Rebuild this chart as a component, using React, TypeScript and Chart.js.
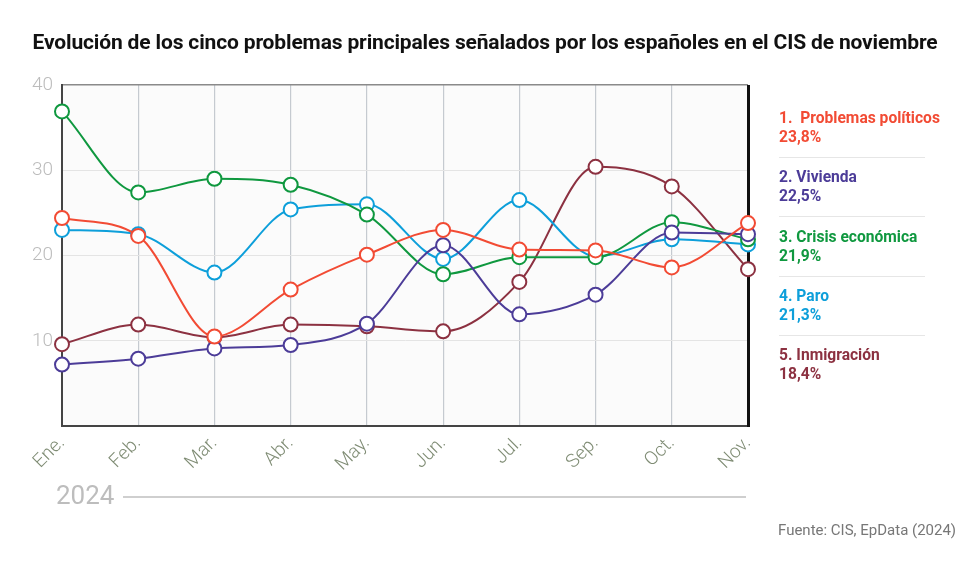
import { useEffect, useRef } from "react";
import { Chart, registerables } from "chart.js";

Chart.register(...registerables);

const months = ["Ene.", "Feb.", "Mar.", "Abr.", "May.", "Jun.", "Jul.", "Sep.", "Oct.", "Nov."];

const politicos = [24.4, 22.3, 10.5, 16.0, 20.1, 23.0, 20.7, 20.6, 18.6, 23.8];
const vivienda = [7.2, 7.9, 9.1, 9.5, 12.0, 21.2, 13.1, 15.4, 22.7, 22.5];
const crisis = [36.9, 27.4, 29.0, 28.3, 24.8, 17.8, 19.8, 19.8, 23.9, 21.9];
const paro = [23.0, 22.5, 18.0, 25.4, 26.0, 19.6, 26.5, 19.9, 21.9, 21.3];
const inmigracion = [9.6, 11.9, 10.4, 11.9, 11.7, 11.1, 16.9, 30.4, 28.1, 18.4];

const seriesNames = ["1.  Problemas políticos", "2. Vivienda", "3. Crisis económica", "4. Paro", "5. Inmigración"];
const seriesColors = ["#f24b34", "#4c3c98", "#0f983f", "#0d9fda", "#8c3141"];
const seriesData = [politicos, vivienda, crisis, paro, inmigracion];
const values = ["23,8%", "22,5%", "21,9%", "21,3%", "18,4%"];

const plotBackground = {
  id: "plotBackground",
  beforeDraw(chart: any) {
    const { ctx, chartArea } = chart;
    ctx.save();
    ctx.fillStyle = "#fbfbfb";
    ctx.fillRect(chartArea.left, chartArea.top, chartArea.right - chartArea.left, chartArea.bottom - chartArea.top);
    ctx.restore();
  },
  beforeDatasetsDraw(chart: any) {
    const { ctx, chartArea } = chart;
    ctx.save();
    ctx.strokeStyle = "#111";
    ctx.lineWidth = 3;
    ctx.beginPath();
    ctx.moveTo(chartArea.right + 0.5, chartArea.top);
    ctx.lineTo(chartArea.right + 0.5, chartArea.bottom + 1);
    ctx.stroke();
    ctx.restore();
  },
};

function LineChart() {
  const chartRef = useRef<HTMLCanvasElement>(null);

  useEffect(() => {
    if (!chartRef.current) return;
    const ctx = chartRef.current.getContext("2d");
    if (!ctx) return;

    const chart = new Chart(ctx, {
      type: "line",
      data: {
        labels: months,
        datasets: seriesData.map((data, i) => ({
          label: seriesNames[i],
          data,
          borderColor: seriesColors[i],
          backgroundColor: "#ffffff",
          pointBackgroundColor: "#ffffff",
          pointBorderColor: seriesColors[i],
          pointBorderWidth: 2,
          pointRadius: 7,
          borderWidth: 2,
          cubicInterpolationMode: "monotone" as const,
          fill: false,
        })),
      },
      options: {
        animation: false,
        responsive: false,
        maintainAspectRatio: false,
        layout: { padding: { top: 85, right: 232, left: 0, bottom: 0 } },
        plugins: {
          legend: { display: false },
          tooltip: { enabled: false },
          title: { display: false },
        },
        scales: {
          x: {
            offset: false,
            afterFit: (s: any) => {
              s.height = 137;
            },
            grid: {
              color: (c: any) => (c.index === months.length - 1 ? "rgba(0,0,0,0)" : "#c5cad0"),
              lineWidth: 1.2,
              drawTicks: false,
            },
            border: { color: "#444", width: 2 },
            ticks: {
              autoSkip: false,
              minRotation: 45,
              maxRotation: 45,
              padding: 6,
              color: "#7f8c74",
              font: { family: "Roboto", size: 19, weight: 300 },
            },
          },
          y: {
            min: 0,
            max: 40,
            afterFit: (s: any) => {
              s.width = 62;
            },
            grid: {
              color: (c: any) => (c.tick && c.tick.value === 40 ? "#8a8a8a" : "#e4e4e4"),
              lineWidth: (c: any) => (c.tick && c.tick.value === 40 ? 1.5 : 1),
              drawTicks: false,
            },
            border: { color: "#444", width: 2 },
            ticks: {
              stepSize: 10,
              padding: 9,
              color: "#bcbcbc",
              font: { family: "Roboto", size: 19, weight: 300 },
              callback: (v: any) => (v === 0 ? "" : String(v)),
            },
          },
        },
      },
      plugins: [plotBackground],
    });

    return () => {
      chart.destroy();
    };
  }, []);

  return <canvas ref={chartRef} width={980} height={563} style={{ position: "absolute", left: 0, top: 0 }} />;
}

export default function App() {
  return (
    <div
      style={{
        position: "fixed",
        left: 0,
        top: 0,
        width: 980,
        height: 563,
        background: "#fff",
        fontFamily: "Roboto, sans-serif",
        overflow: "hidden",
      }}
    >
      <LineChart />
      <div
        style={{
          position: "absolute",
          left: 0,
          width: 970,
          top: 30,
          textAlign: "center",
          fontSize: 21,
          fontWeight: 700,
          color: "#111",
          letterSpacing: -0.15,
          whiteSpace: "nowrap",
        }}
      >
        Evolución de los cinco problemas principales señalados por los españoles en el CIS de noviembre
      </div>
      {seriesNames.map((name, i) => (
        <div
          key={name}
          style={{
            position: "absolute",
            left: 779,
            top: 109 + i * 59.3,
            width: 146,
            color: seriesColors[i],
            fontWeight: 700,
            fontSize: 15.6,
            lineHeight: "19px",
            paddingBottom: 10,
            borderBottom: i < 4 ? "1.5px solid #e6e6e6" : "none",
          }}
        >
          <div style={{ whiteSpace: "pre" }}>{name}</div>
          <div>{values[i]}</div>
        </div>
      ))}
      <div style={{ position: "absolute", left: 56, top: 480, fontSize: 26, color: "#bdbdbd", fontWeight: 400 }}>
        2024
      </div>
      <div style={{ position: "absolute", left: 123, top: 496, width: 623, height: 2, background: "#cfcfcf" }} />
      <div style={{ position: "absolute", left: 778, top: 521, fontSize: 15, color: "#777" }}>
        Fuente: CIS, EpData (2024)
      </div>
    </div>
  );
}
